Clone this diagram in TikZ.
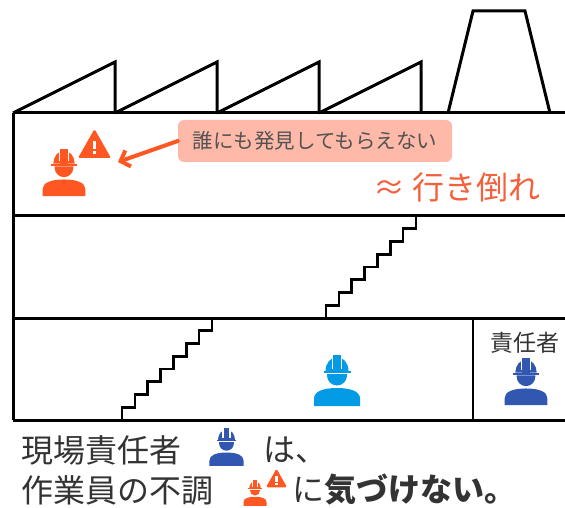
\documentclass[tikz,border=0pt]{standalone}
\usepackage{fontspec}
\setmainfont{Noto Sans CJK JP}
\usepackage{tikz}
\usetikzlibrary{arrows.meta}
\definecolor{hatred}{HTML}{FF5722}
\definecolor{hatsky}{HTML}{039BE5}
\definecolor{hatnavy}{HTML}{3157B0}
\definecolor{bubblepink}{HTML}{FFB9A8}
\definecolor{glossred}{HTML}{F5603C}
\definecolor{inkgray}{HTML}{333333}
\tikzset{>={Straight Barb[length=8pt,width=17pt]}}
\tikzset{
wall/.style={line width=3pt},
stairs/.style={line width=2.6pt},
worker/.pic={
\begin{scope}[yscale=-1]
\path[pic actions] (-23,-25.5) -- (-23,-18) .. controls (-23,-11) and (-14,-7.5) .. (0,-7.5)
  .. controls (14,-7.5) and (23,-11) .. (23,-18) -- (23,-25.5) -- cycle;
\path[pic actions] (-10,6.5) -- (-10,5) arc[start angle=180, end angle=360, radius=10] -- (10,6.5) -- cycle;
\path[pic actions] (-13.5,7.5) rectangle (13.5,9.5);
\path[pic actions] (-11.5,9.5) arc[start angle=180, end angle=0, x radius=11.5, y radius=14] -- cycle;
\path[pic actions] (-4,9.5) rectangle (4,25.5);
\draw[white, line width=1.4pt] (-4.6,12) -- (-4.6,26.5) (4.6,12) -- (4.6,26.5);
\end{scope}
},
warning/.pic={
\begin{scope}[yscale=-1]
\path[pic actions, rounded corners=1.5pt] (0,14.5) -- (16.5,-14.5) -- (-16.5,-14.5) -- cycle;
\fill[white] (-1.7,-5.5) rectangle (1.7,2.5);
\fill[white] (-1.7,-10.5) rectangle (1.7,-7.5);
\end{scope}
},
}
\begin{document}
\begin{tikzpicture}[x=1pt, y=-1pt, text=inkgray]
\useasboundingbox (0,0) rectangle (565,508);

% roof
\foreach \x in {13,115,217,319}
  \draw[wall] (\x,113) -- ++(102,-51) -- ++(0,51);
\draw[wall] (448,113) -- (473,11) -- (525,11) -- (550,113);

% walls and floors
\draw[wall] (13,113) -- (13,420);
\foreach \y in {113,215,318,420}
  \draw[wall] (13,\y) -- (567,\y);
\draw[line width=1.2pt] (473,318) -- (473,420);

% stairs
\draw[stairs] (122,420) foreach \i in {1,...,7} { -- ++(0,-12.75) -- ++(12.86,0) } -- ++(0,-12.75);
\draw[stairs] (326,318) foreach \i in {1,...,7} { -- ++(0,-12.75) -- ++(12.86,0) } -- ++(0,-12.75);

% top floor
\pic[fill=hatred, scale=0.93] at (64,172.5) {worker};
\pic[fill=hatred] at (94.5,143.5) {warning};
\coordinate (hit) at (118,162);
\node[fill=bubblepink, rounded corners=6pt, minimum width=274pt, minimum height=42pt,
  text=inkgray!85, font=\fontsize{20.5}{20.5}\selectfont] (msg) at (315,141) {誰にも発見してもらえない};
\draw[->, draw=hatred, line width=4pt, line cap=round] (msg.west) -- (hit);
\node[text=glossred, font=\fontsize{32}{32}\selectfont] (gloss) at (457,187) {≈ 行き倒れ};

% ground floor
\pic[fill=hatsky] at (337,380.5) {worker};
\node[font=\fontsize{23}{23}\selectfont] (boss) at (525,343) {責任者};
\pic[fill=hatnavy, scale=0.93] at (526,381.5) {worker};

% caption
\node[anchor=west, inner sep=0, font=\fontsize{32}{32}\selectfont] (l1) at (21,450) {現場責任者};
\pic[fill=hatnavy, scale=0.74] at (226.5,447) {worker};
\node[anchor=west, inner sep=0, font=\fontsize{32}{32}\selectfont] (ha) at (263,450) {は、};
\node[anchor=west, inner sep=0, font=\fontsize{32}{32}\selectfont] (l2) at (21,490) {作業員の不調};
\pic[fill=hatred, scale=0.5] at (255,493) {worker};
\pic[fill=hatred, scale=0.64] at (276.5,478) {warning};
\node[anchor=west, inner sep=0, font=\fontsize{32}{32}\selectfont] (ni) at (292,490) {に\textbf{気づけない。}};
\end{tikzpicture}
\end{document}
